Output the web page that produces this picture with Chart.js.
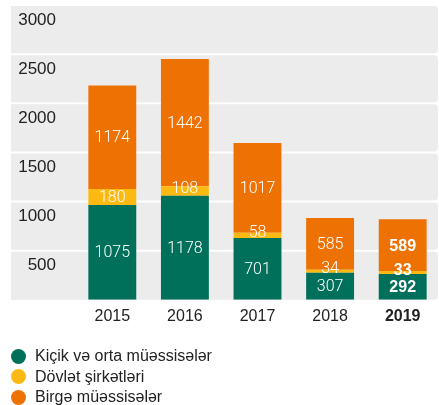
<!DOCTYPE html>
<html>
<head>
<meta charset="utf-8">
<script src="https://cdn.jsdelivr.net/npm/chart.js@4.4.0/dist/chart.umd.min.js"></script>
<style>
  body { margin: 0; background: #fff; }
  #wrap { position: relative; width: 439px; height: 405px; overflow: hidden; }
  #legend { position: absolute; left: 11px; top: 346px; font-family: "Liberation Sans", Arial, sans-serif; font-size: 16px; color: #222; }
  .item { display: flex; align-items: center; height: 20.5px; white-space: nowrap; }
  .dot { width: 15px; height: 15px; border-radius: 50%; margin-right: 9px; }
</style>
</head>
<body>
<div id="wrap">
  <canvas id="myChart" width="439" height="405"></canvas>
  <div id="legend"></div>
</div>
<script>
const anos = ["2015", "2016", "2017", "2018", "2019"];
const kicik = [1075, 1178, 701, 307, 292];
const dovlet = [180, 108, 58, 34, 33];
const birge = [1174, 1442, 1017, 585, 589];
const seriyalar = ["Kiçik və orta müəssisələr", "Dövlət şirkətləri", "Birgə müəssisələr"];
const rengler = ["#00705a", "#fcb912", "#ee7203"];
const yEtiketler = [500, 1000, 1500, 2000, 2500, 3000];

const fontAd = "'Liberation Sans', Arial, sans-serif";

// gray bands behind the bars, split by white lines at each tick
const fondo = {
  id: "fondo",
  beforeDraw(chart) {
    const ctx = chart.ctx;
    const sc = chart.scales.yTicks;
    const sinirlar = [0].concat(yEtiketler);
    ctx.save();
    ctx.fillStyle = "#ececec";
    for (let i = 0; i < sinirlar.length - 1; i++) {
      const yb = sc.getPixelForValue(sinirlar[i]);
      const yt = sc.getPixelForValue(sinirlar[i + 1]);
      const h = i === 0 ? yb - yt - 1 : yb - yt - 2;
      ctx.beginPath();
      ctx.roundRect(11, yt + 1, 427, h, [0, 4, 4, 0]);
      ctx.fill();
    }
    ctx.restore();
  }
};

// white numbers inside each segment
const etiketler = {
  id: "etiketler",
  afterDatasetsDraw(chart) {
    const ctx = chart.ctx;
    ctx.save();
    ctx.fillStyle = "#fff";
    ctx.textAlign = "center";
    ctx.textBaseline = "middle";
    chart.data.datasets.forEach((ds, i) => {
      chart.getDatasetMeta(i).data.forEach((bar, j) => {
        const son = j === anos.length - 1;
        ctx.font = son ? "bold 16px " + fontAd : "300 16px Roboto, " + fontAd;
        let y = (bar.y + bar.base) / 2 + 1;
        if (bar.base - bar.y < 14) y -= 3;
        ctx.fillText(ds.data[j], bar.x, y);
      });
    });
    ctx.restore();
  }
};

addEventListener("DOMContentLoaded", function () {
  const ctx = document.getElementById("myChart");
  const chart = new Chart(ctx, {
    type: "bar",
    data: {
      labels: anos,
      datasets: [
        { label: seriyalar[0], data: kicik, backgroundColor: rengler[0] },
        { label: seriyalar[1], data: dovlet, backgroundColor: rengler[1] },
        { label: seriyalar[2], data: birge, backgroundColor: rengler[2] },
      ],
    },
    options: {
      responsive: false,
      animation: false,
      categoryPercentage: 1,
      barPercentage: 0.66,
      layout: { padding: { top: 5, bottom: 72, left: 0, right: 0 } },
      plugins: {
        legend: { display: false },
        tooltip: { enabled: false },
      },
      scales: {
        x: {
          stacked: true,
          grid: { display: false, drawTicks: false },
          border: { display: false },
          ticks: {
            padding: 7,
            color: "#222",
            font: (c) => ({ size: 16, family: fontAd, weight: c.index === anos.length - 1 ? "bold" : "normal" }),
          },
        },
        y: { stacked: true, display: false, min: 0, max: 3340 },
        yTicks: {
          axis: "y",
          position: "left",
          min: 0,
          max: 3000,
          grid: { display: false, drawTicks: false },
          border: { display: false },
          afterBuildTicks: (s) => { s.ticks = [{ value: 0 }].concat(yEtiketler.map((v) => ({ value: v }))); },
          ticks: {
            padding: 20,
            labelOffset: 15,
            color: "#222",
            font: { size: 17, family: fontAd },
            callback: (v) => (v === 0 ? "" : v),
          },
          afterFit: (s) => { s.width = 76; s.paddingTop = 0; s.paddingBottom = 0; },
        },
      },
    },
    plugins: [fondo, etiketler],
  });

  let out = "";
  for (let ds of chart.data.datasets) {
    out += `<div class="item"><span class="dot" style="background:${ds.backgroundColor}"></span>${ds.label}</div>`;
  }
  document.querySelector("#legend").innerHTML = out;
});
</script>
</body>
</html>
